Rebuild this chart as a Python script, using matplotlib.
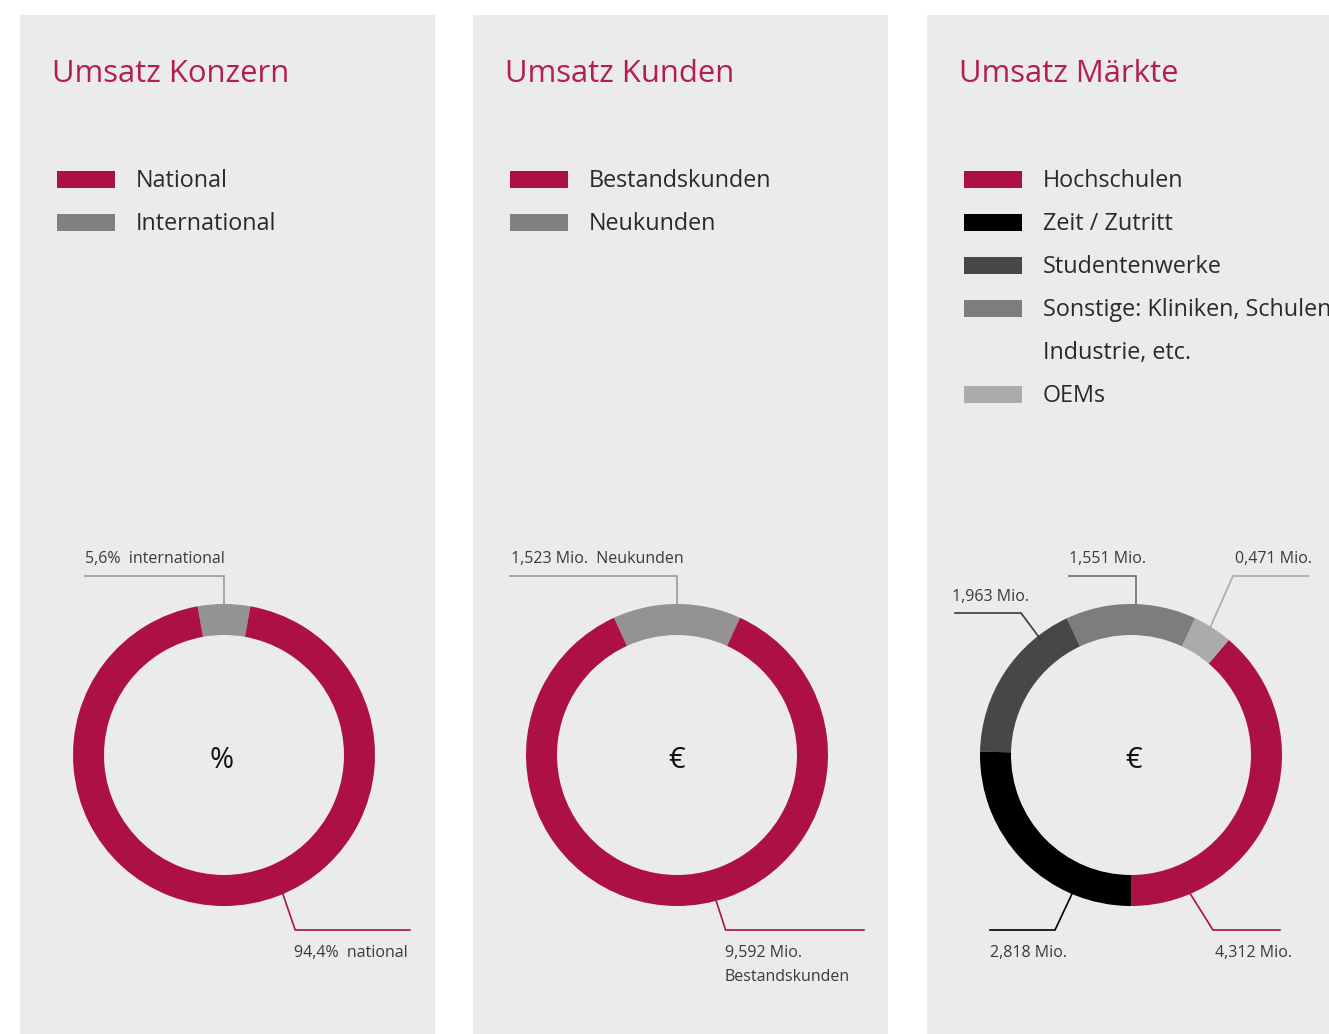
import matplotlib
matplotlib.use("Agg")
import matplotlib.pyplot as plt
from matplotlib.patches import Rectangle
import numpy as np

plt.rcParams["font.family"] = ["Open Sans", "DejaVu Sans"]

# data
konzern_labels = ["National", "International"]
konzern_values = [94.4, 5.6]

kunden_labels = ["Bestandskunden", "Neukunden"]
kunden_values = [9.592, 1.523]

maerkte_labels = ["Hochschulen", "Zeit / Zutritt", "Studentenwerke",
                  "Sonstige: Kliniken, Schulen,\nIndustrie, etc.", "OEMs"]
maerkte_values = [4.312, 2.818, 1.963, 1.551, 0.471]

RED = "#ad1042"
TITLE = "#b41e4e"
BG = "#ebebeb"
TXT = "#2a2a2a"
LBL = "#3a3a3a"

W, H = 1329, 1034
fig = plt.figure(figsize=(W / 100, H / 100), dpi=100)
fig.patch.set_facecolor("white")
ax = fig.add_axes([0, 0, 1, 1])


def Y(py):
    return H - py


panels = [20, 473, 927]
for x0 in panels:
    ax.add_patch(Rectangle((x0, 0), 415, Y(15), facecolor=BG, edgecolor="none", zorder=0))

R, WID = 151, 31
CY = 755


def point(cx, ang, r=R):
    a = np.deg2rad(ang)
    return cx + r * np.cos(a), Y(CY) + r * np.sin(a)


def legend(x0, labels, colors):
    y = 179
    for lab, col in zip(labels, colors):
        ax.add_patch(Rectangle((x0 + 37, Y(y) - 8.5), 58, 17, facecolor=col, edgecolor="none"))
        for line in lab.split("\n"):
            ax.text(x0 + 116, Y(y + 2), line, fontsize=16.8, color=TXT, va="center", ha="left")
            y += 43


def title(x0, s):
    ax.text(x0 + 32, Y(74), s, fontsize=22.3, color=TITLE, va="center", ha="left")


def label(x, y, s):
    ax.text(x, Y(y + 2), s, fontsize=11.5, color=LBL, ha="left", va="center", linespacing=1.6)


def leader(pts, col):
    xs = [p[0] for p in pts]
    ys = [p[1] for p in pts]
    ax.plot(xs, ys, color=col, lw=1.2, solid_joinstyle="miter")


def donut(cx, values, colors, start):
    ax.pie(values, colors=colors, center=(cx, Y(CY)), radius=R, startangle=start,
           counterclock=True, wedgeprops=dict(width=WID, edgecolor="none"), frame=True)


# panel 1
cx1 = 224
title(panels[0], "Umsatz Konzern")
legend(panels[0], konzern_labels, [RED, "#808080"])
f_int = konzern_values[1] / sum(konzern_values)
donut(cx1, konzern_values[::-1], ["#939393", RED], 90 - 180 * f_int)
ax.text(cx1 - 2, Y(CY + 5), "%", fontsize=21, color="#111111", ha="center", va="center")
top = point(cx1, 90)
leader([top, (cx1, Y(576)), (85, Y(576))], "#9a9a9a")
label(85, 557, "5,6%  international")
p = point(cx1, -67, R - 2)
leader([p, (p[0] + 13, Y(930)), (410, Y(930))], RED)
label(294, 951, "94,4%  national")

# panel 2
cx2 = 677
title(panels[1], "Umsatz Kunden")
legend(panels[1], kunden_labels, [RED, "#808080"])
f_neu = kunden_values[1] / sum(kunden_values)
donut(cx2, kunden_values[::-1], ["#939393", RED], 90 - 180 * f_neu)
ax.text(cx2, Y(CY + 5), "€", fontsize=21, color="#111111", ha="center", va="center")
top = point(cx2, 90)
leader([top, (cx2, Y(576)), (510, Y(576))], "#9a9a9a")
label(511, 557, "1,523 Mio.  Neukunden")
p = point(cx2, -75, R - 2)
leader([p, (p[0] + 10, Y(930)), (864, Y(930))], RED)
label(725, 963, "9,592 Mio.\nBestandskunden")

# panel 3
cx3 = 1131
title(panels[2], "Umsatz Märkte")
m_cols = [RED, "#000000", "#474747", "#7d7d7d", "#ababab"]
legend(panels[2], maerkte_labels, m_cols)
order = [0, 4, 3, 2, 1]
donut(cx3, [maerkte_values[i] for i in order], [m_cols[i] for i in order], -90)
ax.text(cx3 + 3, Y(CY + 5), "€", fontsize=21, color="#111111", ha="center", va="center")

p = point(cx3, 128, R - 4)
leader([p, (1021, Y(613)), (955, Y(613))], "#3a3a3a")
label(952, 595, "1,963 Mio.")
p = point(cx3, 88)
leader([p, (p[0], Y(576)), (1069, Y(576))], "#6e6e6e")
label(1069, 557, "1,551 Mio.")
p = point(cx3, 58, R - 4)
leader([p, (1233, Y(576)), (1308, Y(576))], "#aaaaaa")
label(1235, 557, "0,471 Mio.")
p = point(cx3, -113, R - 2)
leader([p, (1055, Y(930)), (990, Y(930))], "#000000")
label(990, 951, "2,818 Mio.")
p = point(cx3, -67, R - 2)
leader([p, (1213, Y(930)), (1280, Y(930))], RED)
label(1215, 951, "4,312 Mio.")

ax.set_xlim(0, W)
ax.set_ylim(0, H)
ax.set_aspect("auto")
ax.axis("off")

fig.savefig("out.png", dpi=100, facecolor="white")
